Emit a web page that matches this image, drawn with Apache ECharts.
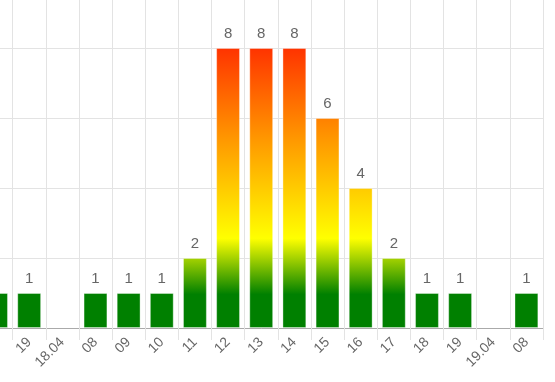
<!DOCTYPE html>
<html>
<head>
<meta charset="utf-8">
<script src="https://cdn.jsdelivr.net/npm/echarts@6/dist/echarts.min.js"></script>
<style>html,body{margin:0;padding:0;background:#fff;overflow:hidden;width:555px;height:382px}#c{position:absolute;left:-22px;top:-22px;width:577px;height:404px}</style>
</head>
<body>
<div id="c"></div>
<script>
const categories = ["18","19","18.04","08","09","10","11","12","13","14","15","16","17","18","19","19.04","08"];
const values = [1,1,null,1,1,1,2,8,8,8,6,4,2,1,1,null,1];
const yTicks = [0,2,4,6,8,10];

const chart = echarts.init(document.getElementById('c'), null, {renderer:'canvas'});
const base = {
  animation:false,
  grid:{left:0,right:12,top:0,bottom:54,containLabel:false},
  xAxis:{
    type:'category',
    data:categories,
    boundaryGap:true,
    axisLine:{show:true,lineStyle:{color:'#aaaaaa',width:1}},
    axisTick:{show:true,interval:0,length:12,lineStyle:{color:'#e3e3e3'}},
    axisLabel:{interval:0,rotate:45,margin:12,color:'#666666',fontSize:14,fontFamily:'Arial, Liberation Sans, sans-serif'},
    splitLine:{show:true,interval:0,lineStyle:{color:'#e3e3e3'}}
  },
  yAxis:{
    type:'value',min:yTicks[0],max:yTicks[yTicks.length-1],interval:2,
    axisLine:{show:false},axisTick:{show:false},axisLabel:{show:false},
    splitLine:{show:true,lineStyle:{color:'#e3e3e3'}}
  },
  series:[{
    type:'bar',
    data:values,
    barCategoryGap:'28%',
    itemStyle:{color:'#008000',borderColor:'rgba(255,255,255,0.35)',borderWidth:1},
    label:{show:true,position:'top',distance:7,color:'#666666',fontSize:15,fontFamily:'Arial, Liberation Sans, sans-serif'}
  }]
};
chart.setOption(base);
const yTop = chart.convertToPixel({yAxisIndex:0}, 8);
const yBot = chart.convertToPixel({yAxisIndex:0}, 0);
const grad = new echarts.graphic.LinearGradient(0, yTop, 0, yBot, [
  {offset:0, color:'#ff3300'},
  {offset:0.33, color:'#ff9900'},
  {offset:0.68, color:'#ffff00'},
  {offset:0.88, color:'#008000'},
  {offset:1, color:'#008000'}
], true);
chart.setOption({series:[{itemStyle:{color:grad}}]});
</script>
</body>
</html>
